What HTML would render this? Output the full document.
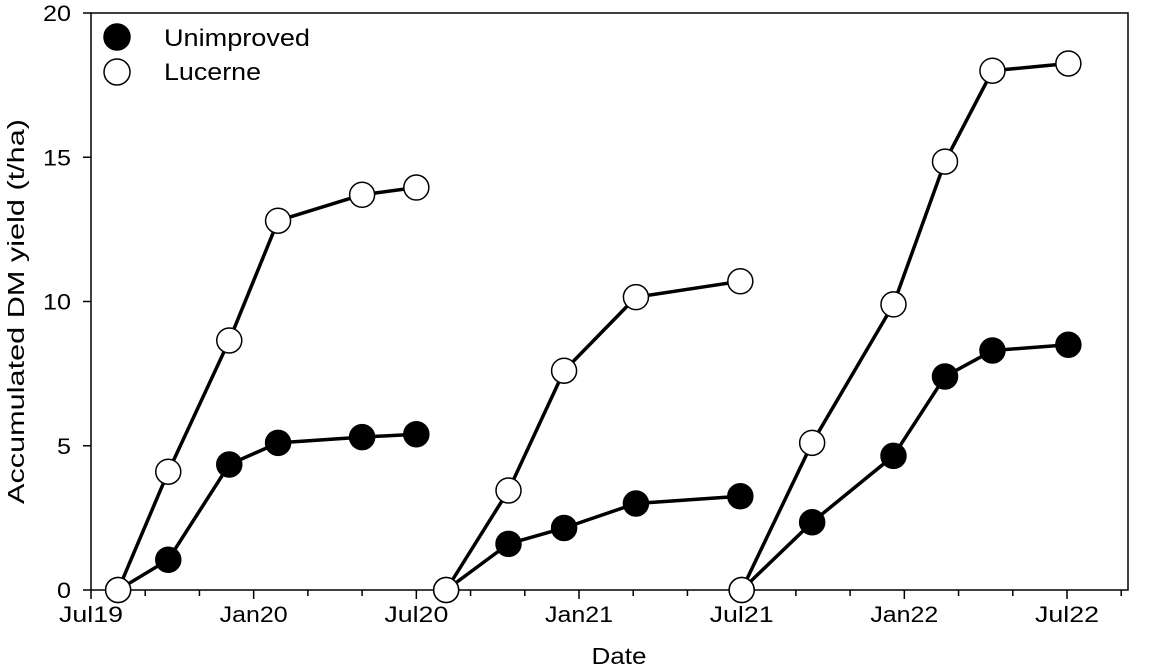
<!DOCTYPE html>
<html><head><meta charset="utf-8"><style>
body{margin:0;background:#fff;}
svg{display:block;font-family:"Liberation Sans",Arial,sans-serif;}
</style></head><body>
<svg id="chart" width="1152" height="669"></svg>
<script>
const xTickLabels=["Jul19","Jan20","Jul20","Jan21","Jul21","Jan22","Jul22"];
const xTickMonths=[0,6,12,18,24,30,36];
const yTicks=[0,5,10,15,20];
const seasonMonths=[[1.0,2.85,5.1,6.9,10.0,12.0],[13.1,15.4,17.45,20.1,23.95],[24.0,26.6,29.6,31.5,33.25,36.05]];
const unimproved=[[0,1.05,4.35,5.1,5.3,5.4],[0,1.6,2.15,3.0,3.25],[0,2.35,4.65,7.4,8.3,8.5]];
const lucerne=[[0,4.1,8.65,12.8,13.7,13.95],[0,3.45,7.6,10.15,10.7],[0,5.1,9.9,14.85,18.0,18.25]];
const NS="http://www.w3.org/2000/svg";
const svg=document.getElementById('chart');
const L=91,R=1128,T=13,B=590,XMAX=38.25,YMAX=20;
const xs=m=>L+m/XMAX*(R-L);
const ys=v=>B-v/YMAX*(B-T);
function mk(tag,at,parent){const e=document.createElementNS(NS,tag);for(const k in at)e.setAttribute(k,at[k]);(parent||svg).appendChild(e);return e;}
let e;
e=mk('rect',{x:L,y:T,width:R-L,height:B-T,fill:'none',stroke:'#000','stroke-width':1.5});


yTicks.forEach(v=>{
 mk('line',{x1:L-8,y1:ys(v),x2:L,y2:ys(v),stroke:'#000','stroke-width':1.5});
 const s=String(v);
 e=mk('text',{x:L-20,y:ys(v)+8,'text-anchor':'end','font-size':22,textLength:14*s.length,lengthAdjust:'spacingAndGlyphs'});
 e.textContent=s;
 
 
});
for(let m=0;m<=XMAX;m+=2){
 mk('line',{x1:xs(m),y1:B,x2:xs(m),y2:B+(m%6===0?9:6),stroke:'#000','stroke-width':1.5});
}
xTickMonths.forEach((m,i)=>{
 e=mk('text',{x:xs(m),y:B+32,'text-anchor':'middle','font-size':22,textLength:xTickLabels[i].startsWith('Jan')?68:64,lengthAdjust:'spacingAndGlyphs'});
 e.textContent=xTickLabels[i];
 
 
});
e=mk('text',{x:619,y:664,'text-anchor':'middle','font-size':23,textLength:55,lengthAdjust:'spacingAndGlyphs'});
e.textContent='Date';


e=mk('text',{x:0,y:0,'text-anchor':'middle','font-size':23,textLength:385,lengthAdjust:'spacingAndGlyphs',transform:`translate(24,${(T+B)/2+10}) rotate(-90)`});
e.textContent='Accumulated DM yield (t/ha)';


function series(vals,name){
 vals.forEach((arr,s)=>{
  const pts=arr.map((v,i)=>xs(seasonMonths[s][i])+','+ys(v)).join(' ');
  e=mk('polyline',{points:pts,fill:'none',stroke:'#000','stroke-width':3.5});
  
  
 });
}
function markers(vals,fill,name){
 vals.forEach((arr,s)=>arr.forEach((v,i)=>{
  e=mk('circle',{cx:xs(seasonMonths[s][i]),cy:ys(v),r:12.5,fill:fill,stroke:'#000','stroke-width':1.5});
  
  
 }));
}
series(lucerne,'lucerne');
series(unimproved,'unimproved');
markers(unimproved,'#000','unimproved');
markers(lucerne,'#fff','lucerne');
e=mk('circle',{cx:117,cy:37,r:13,fill:'#000',stroke:'#000','stroke-width':1.5});


e=mk('text',{x:164,y:46,'font-size':24,textLength:146,lengthAdjust:'spacingAndGlyphs'});
e.textContent='Unimproved';


e=mk('circle',{cx:117,cy:72,r:13,fill:'#fff',stroke:'#000','stroke-width':1.5});


e=mk('text',{x:164,y:80,'font-size':24,textLength:97,lengthAdjust:'spacingAndGlyphs'});
e.textContent='Lucerne';


</script>
</body></html>
